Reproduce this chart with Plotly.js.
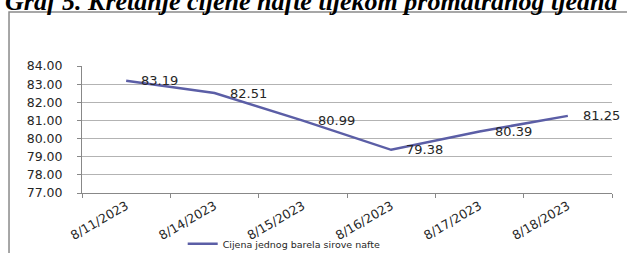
<!DOCTYPE html>
<html>
<head>
<meta charset="utf-8">
<script src="https://cdn.plot.ly/plotly-3.0.1.min.js"></script>
<style>html,body{margin:0;padding:0;background:#fff;}#chart{width:627px;height:253px;}</style>
</head>
<body>
<div id="chart"></div>
<script>
const categories = ["8/11/2023", "8/14/2023", "8/15/2023", "8/16/2023", "8/17/2023", "8/18/2023"];
const prices = [83.19, 82.51, 80.99, 79.38, 80.39, 81.25];
const seriesName = "Cijena jednog barela sirove nafte";
const chartTitle = "Graf 5. Kretanje cijene nafte tijekom promatranog tjedna";
const yTicks = [77, 78, 79, 80, 81, 82, 83, 84];

const lineColor = "#5b5ea6";
const gridColor = "#b3b3b3";

const trace = {
  type: "scatter",
  mode: "lines",
  x: categories,
  y: prices,
  name: seriesName,
  line: {color: lineColor, width: 2.5},
  hoverinfo: "skip"
};

const labelAnnotations = categories.map((c, i) => ({
  x: c, y: prices[i], xref: "x", yref: "y",
  text: prices[i].toFixed(2),
  showarrow: false, xanchor: "left", yanchor: "middle", xshift: 13,
  font: {family: "DejaVu Sans", size: 13, color: "#262626"}
}));

const titleAnnotation = {
  xref: "paper", yref: "paper", x: 0.432, y: 1.378, xanchor: "center", yanchor: "bottom",
  text: "<b><i>" + chartTitle + "</i></b>", showarrow: false,
  font: {family: "Liberation Serif", size: 26, color: "#000"}
};

const layout = {
  width: 627, height: 253,
  margin: {l: 82, r: 15, t: 66, b: 60, autoexpand: false},
  paper_bgcolor: "#fff", plot_bgcolor: "#fff",
  showlegend: true,
  legend: {
    orientation: "h", x: 0.19, xanchor: "left", y: -0.40, yanchor: "middle",
    font: {family: "DejaVu Sans", size: 9.5, color: "#262626"},
    bgcolor: "rgba(0,0,0,0)", itemwidth: 30
  },
  xaxis: {
    type: "category",
    range: [-0.5, 5.5],
    automargin: false,
    tickvals: categories,
    ticktext: categories,
    tickangle: -30,
    tickson: "boundaries",
    ticks: "outside", ticklen: 4, tickcolor: "#888",
    showline: true, linecolor: "#888", linewidth: 1,
    showgrid: false, zeroline: false,
    tickfont: {family: "DejaVu Sans", size: 12.5, color: "#262626"},
    fixedrange: true
  },
  yaxis: {
    range: [77, 84],
    automargin: false,
    tickvals: yTicks,
    tickformat: ".2f",
    ticks: "outside", ticklen: 4, tickcolor: "#888",
    ticklabelstandoff: 12,
    showline: true, linecolor: "#888", linewidth: 1,
    showgrid: true, gridcolor: gridColor, gridwidth: 1,
    zeroline: false,
    tickfont: {family: "DejaVu Sans", size: 12.5, color: "#262626"},
    fixedrange: true
  },
  shapes: [{
    type: "rect", xref: "paper", yref: "paper",
    x0: -0.1377, x1: 1.2, y0: -1, y1: 1.425,
    line: {color: "#8a8a8a", width: 1.5}, fillcolor: "rgba(0,0,0,0)", layer: "below"
  }],
  annotations: labelAnnotations.concat([titleAnnotation])
};

Plotly.newPlot("chart", [trace], layout, {displayModeBar: false, staticPlot: true});
</script>
</body>
</html>
